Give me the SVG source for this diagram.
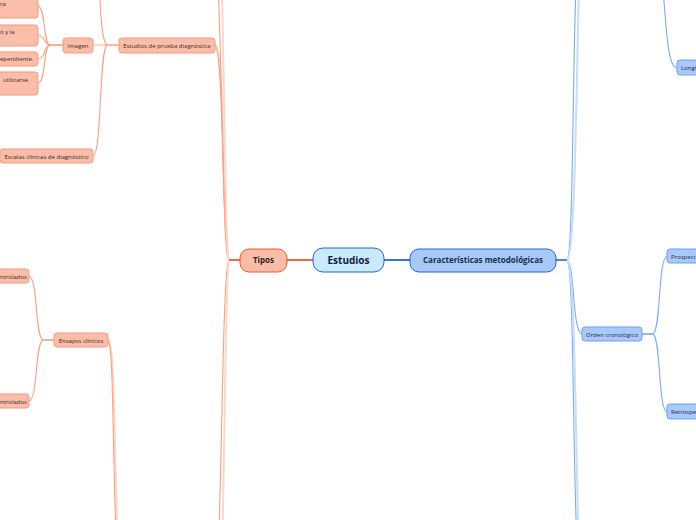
<svg xmlns="http://www.w3.org/2000/svg" width="696" height="520" viewBox="0 0 696 520">
<style>
.bg{fill:#ffffff}
.c-or{fill:none;stroke:#f7a084;stroke-width:1.1}
.c-orp{fill:none;stroke:#fcd6c9;stroke-width:2}
.c-bl{fill:none;stroke:#7eaaf0;stroke-width:1.1}
.c-blp{fill:none;stroke:#c9dcfb;stroke-width:2}
.n-or{fill:#f9bda9;stroke:#f59a7c;stroke-width:1}
.n-bl{fill:#a9c9fa;stroke:#6c9ff0;stroke-width:1}
.t{font-family:"Open Sans","Noto Sans",sans-serif;font-size:6px;fill:#3a2a26}
.tb{font-family:"Open Sans","Noto Sans",sans-serif;font-size:6px;fill:#1d2a40}
</style>
<rect class="bg" x="0" y="0" width="696" height="520"/>
<g id="connectors">
  <line x1="287" y1="260" x2="313" y2="260" stroke="#f05a28" stroke-width="1.8"/>
  <line x1="384" y1="260" x2="410" y2="260" stroke="#1f66d6" stroke-width="1.8"/>
  <path class="c-orp" d="M240,260 L229,260 C222,258 226,48 215,45"/>
  <path class="c-or" d="M240,260 L229,260 C222,258 224,48 215,45"/>
  <path class="c-or" d="M229,260 C222,255 222,-20 214,-80"/>
  <path class="c-orp" d="M229,260 C224,255 225,-20 216,-200"/>
  <path class="c-or" d="M229,260 C222,265 222,520 216,600"/>
  <path class="c-orp" d="M229,260 C225,265 225,520 218,700"/>
  <line x1="240" y1="260" x2="229" y2="260" stroke="#f05a28" stroke-width="1.6"/>
  <path class="c-orp" d="M119,45 L93,45"/>
  <path class="c-or" d="M119,45 L107,45"/>
  <path class="c-or" d="M107,45 C99,50 102,154 93,156"/>
  <path class="c-or" d="M107,45 C99,40 101,-20 95,-60"/>
  <line x1="63" y1="45" x2="50" y2="45" stroke="#f4845f" stroke-width="1.3"/>
  <path class="c-or" d="M50,45 C43,44 46,8 38,6"/>
  <path class="c-or" d="M50,45 C43,44 46,36 38,35"/>
  <path class="c-or" d="M50,45 C43,46 46,59 38,59"/>
  <path class="c-or" d="M50,45 C43,46 46,83 38,83"/>
  <line x1="54" y1="340" x2="43" y2="340" stroke="#f4845f" stroke-width="1.3"/>
  <path class="c-or" d="M43,340 C35,338 38,278 29,276"/>
  <path class="c-or" d="M43,340 C35,342 38,400 29,401"/>
  <path class="c-orp" d="M108,340 C116,345 113,450 119,560"/>
  <path class="c-or" d="M108,340 C114,345 112,450 117,560"/>
  <line x1="556" y1="260" x2="567" y2="260" stroke="#1f66d6" stroke-width="1.6"/>
  <path class="c-bl" d="M567,260 C575,255 571,-40 582,-100"/>
  <path class="c-blp" d="M567,260 C578,255 576,-40 586,-240"/>
  <path class="c-bl" d="M567,260 C575,264 572,332 582,334"/>
  <path class="c-bl" d="M567,260 C575,265 572,520 580,600"/>
  <path class="c-blp" d="M567,260 C577,265 575,520 584,720"/>
  <path class="c-bl" d="M655,-40 C668,-30 662,66 677,68"/>
  <line x1="642" y1="334" x2="653" y2="334" stroke="#5b93ec" stroke-width="1.3"/>
  <path class="c-bl" d="M653,334 C661,330 658,258 667,256"/>
  <path class="c-bl" d="M653,334 C661,338 658,410 667,412"/>
</g>
<g id="n-estudios">
  <rect x="313" y="248" width="71" height="24" rx="10" fill="#c8eafc" stroke="#1f66d6" stroke-width="1"/>
  <text x="348.5" y="264" text-anchor="middle" style="font-family:'Open Sans','Noto Sans',sans-serif;font-size:10px;font-weight:700;fill:#0e1c3c">Estudios</text>
</g>
<g id="n-tipos">
  <rect x="240" y="249" width="47" height="23" rx="9" fill="#f9bca7" stroke="#f05a28" stroke-width="1"/>
  <text x="263.5" y="263" text-anchor="middle" style="font-family:'Open Sans','Noto Sans',sans-serif;font-size:8px;font-weight:700;fill:#3a2020">Tipos</text>
</g>
<g id="n-caract">
  <rect x="410" y="249" width="146" height="23" rx="9" fill="#a8c8f9" stroke="#1f66d6" stroke-width="1"/>
  <text x="483" y="263" text-anchor="middle" style="font-family:'Open Sans','Noto Sans',sans-serif;font-size:8px;font-weight:700;fill:#14304a">Características metodológicas</text>
</g>
<g id="n-prueba">
  <rect class="n-or" x="119" y="38" width="96" height="15" rx="3"/>
  <text class="t" x="167" y="47.5" text-anchor="middle">Estudios de prueba diagnóstica</text>
</g>
<g id="n-imagen">
  <rect class="n-or" x="63" y="38" width="30" height="15" rx="3"/>
  <text class="t" x="78" y="47.5" text-anchor="middle">Imagen</text>
</g>
<g id="n-img1">
  <rect class="n-or" x="-10" y="-6" width="48" height="24" rx="3"/>
  <text class="t" x="0" y="6">ra</text>
</g>
<g id="n-img2">
  <rect class="n-or" x="-10" y="25" width="48" height="21" rx="3"/>
  <text class="t" x="0" y="34">o y la</text>
</g>
<g id="n-img3">
  <rect class="n-or" x="-10" y="52" width="48" height="14" rx="3"/>
  <text class="t" x="0" y="61">ependiente.</text>
</g>
<g id="n-img4">
  <rect class="n-or" x="-10" y="72" width="48" height="23" rx="3"/>
  <text class="t" x="3" y="82">utilizarse</text>
</g>
<g id="n-escalas">
  <rect class="n-or" x="0" y="149" width="93" height="14" rx="3"/>
  <text class="t" x="46.5" y="158.5" text-anchor="middle">Escalas clínicas de diagnóstico</text>
</g>
<g id="n-ensayos">
  <rect class="n-or" x="54" y="333" width="54" height="14" rx="3"/>
  <text class="t" x="81" y="342.5" text-anchor="middle">Ensayos clínicos</text>
</g>
<g id="n-ens1">
  <rect class="n-or" x="-10" y="269" width="39" height="14" rx="3"/>
  <text class="t" x="0" y="278.5">ntrolados</text>
</g>
<g id="n-ens2">
  <rect class="n-or" x="-10" y="394" width="39" height="14" rx="3"/>
  <text class="t" x="0" y="403.5">ntrolados</text>
</g>
<g id="n-longi">
  <rect class="n-bl" x="677" y="60" width="30" height="15" rx="3"/>
  <text class="tb" x="681" y="70">Longi</text>
</g>
<g id="n-orden">
  <rect class="n-bl" x="582" y="327" width="60" height="14" rx="3"/>
  <text class="tb" x="612" y="336.5" text-anchor="middle">Orden cronológico</text>
</g>
<g id="n-prosp">
  <rect class="n-bl" x="667" y="249" width="40" height="14" rx="3"/>
  <text class="tb" x="671" y="258.5">Prospect</text>
</g>
<g id="n-retro">
  <rect class="n-bl" x="667" y="404" width="40" height="15" rx="3"/>
  <text class="tb" x="671" y="414">Retrospe</text>
</g>
</svg>
